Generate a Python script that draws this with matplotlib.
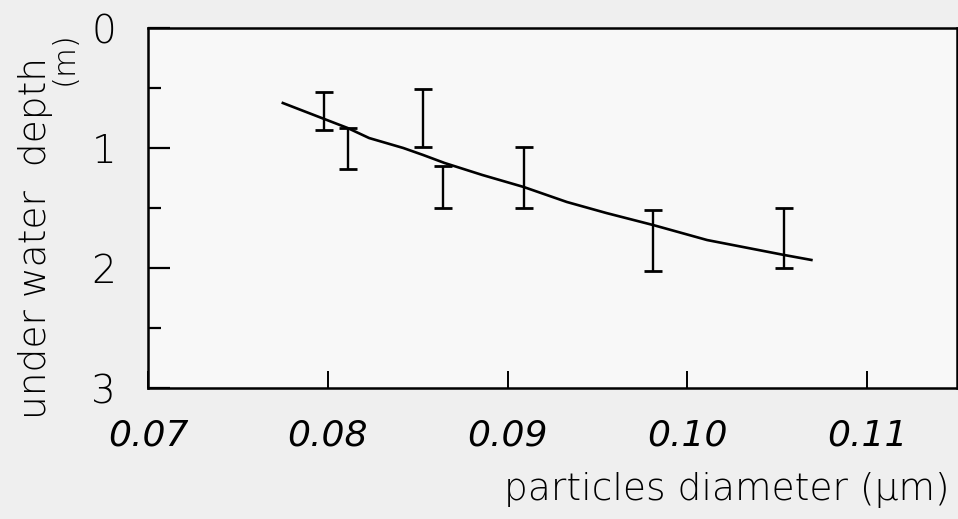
import matplotlib
matplotlib.use("Agg")
import matplotlib.pyplot as plt
from matplotlib.ticker import FixedLocator

# ---- data ----
bar_diameter = [0.0798, 0.0811, 0.0853, 0.0864, 0.0909, 0.0981, 0.1054]
depth_top    = [0.533, 0.833, 0.51, 1.15, 0.99, 1.517, 1.50]
depth_bottom = [0.85, 1.175, 0.99, 1.50, 1.50, 2.025, 2.00]

curve_diameter = [0.0775, 0.0798, 0.0811, 0.0823, 0.0842, 0.0853, 0.0865,
                  0.0886, 0.0909, 0.0933, 0.0955, 0.0981, 0.1011, 0.1054,
                  0.1069]
curve_depth = [0.625, 0.758, 0.833, 0.917, 1.0, 1.058, 1.125,
               1.225, 1.325, 1.45, 1.542, 1.642, 1.767, 1.892,
               1.933]

x_ticks = [0.07, 0.08, 0.09, 0.10, 0.11]
x_labels = ["0.07", "0.08", "0.09", "0.10", "0.11"]
y_ticks = [0, 1, 2, 3]
y_labels = ["0", "1", "2", "3"]
y_minor = [0.5, 1.5, 2.5]

# ---- figure ----
W, H = 958, 519
fig = plt.figure(figsize=(W / 100, H / 100), dpi=100, facecolor="#efefef")
left, right, top, bottom = 148, 957, 28, 388
ax = fig.add_axes([left / W, 1 - bottom / H, (right - left) / W, (bottom - top) / H])
ax.set_facecolor("#f8f8f8")

center = [(a + b) / 2 for a, b in zip(depth_top, depth_bottom)]
half = [(b - a) / 2 for a, b in zip(depth_top, depth_bottom)]
ax.errorbar(bar_diameter, center, yerr=half, fmt="none", ecolor="black",
            elinewidth=1.7, capsize=6.5, capthick=2.0)
ax.plot(curve_diameter, curve_depth, color="black", lw=1.9)

ax.set_xlim(0.07, 0.115)
ax.set_ylim(3, 0)

ax.set_xticks(x_ticks)
ax.set_xticklabels(x_labels, fontsize=26, style="italic", fontweight="light")
ax.set_yticks(y_ticks)
ax.set_yticklabels(y_labels, fontsize=28, fontweight="light")
ax.yaxis.set_minor_locator(FixedLocator(y_minor))

ax.tick_params(axis="y", which="major", direction="in", length=16, width=1.6,
               pad=23)
ax.tick_params(axis="y", which="minor", direction="in", length=9, width=1.6)
ax.tick_params(axis="x", which="major", direction="in", length=12, width=1.4,
               pad=22)

for s in ax.spines.values():
    s.set_linewidth(1.8)
    s.set_color("black")

fig.text(36 / W, 1 - 238 / H, "under water  depth", rotation=90,
         ha="center", va="center", fontsize=27, fontweight="light")
fig.text(64 / W, 1 - 58 / H, "(m)", rotation=90,
         ha="center", va="center", fontsize=22, fontweight="light")
fig.text(950 / W, 1 - 490 / H, "particles diameter (\u03bcm)", ha="right",
         va="center", fontsize=27, fontweight="light")

fig.savefig("out.png", dpi=100, facecolor=fig.get_facecolor())
